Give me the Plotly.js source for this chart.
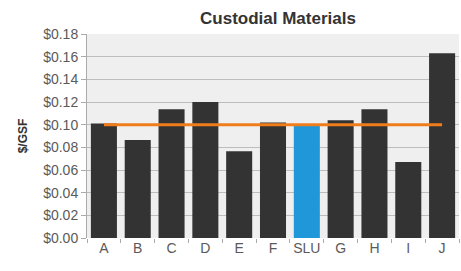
<!DOCTYPE html>
<html><head><meta charset="utf-8">
<script src="https://cdn.plot.ly/plotly-3.0.1.min.js"></script>
<style>html,body{margin:0;padding:0;background:#fff;}#chart{width:461px;height:271px;}</style>
</head><body><div id="chart"></div>
<script>
const categories = ["A","B","C","D","E","F","SLU","G","H","I","J"];
const values = [0.101,0.0865,0.1135,0.120,0.0765,0.102,0.0995,0.104,0.1135,0.067,0.163];
const average = 0.100;
const barColors = categories.map(c => c === "SLU" ? "#1f97d8" : "#333333");
const avgLine = categories.map(() => average);

const traces = [
  {type:"bar", x:categories, y:values, marker:{color:barColors, line:{width:0}}, hoverinfo:"skip"},
  {type:"scatter", mode:"lines", x:categories, y:avgLine, line:{color:"#f07d1c", width:3}, hoverinfo:"skip"}
];
const layout = {
  width:461, height:271,
  margin:{l:87, r:2, t:34, b:33},
  paper_bgcolor:"#ffffff", plot_bgcolor:"#efefef",
  showlegend:false, bargap:0.23,
  font:{family:"Liberation Sans, Arial, sans-serif", color:"#5a5a5a", size:14},
  title:{text:"<b>Custodial Materials</b>", x:0.603, xanchor:"center", y:0.932, yanchor:"middle", font:{size:17, color:"#333333"}},
  xaxis:{type:"category", showgrid:false, ticks:"outside", tickson:"boundaries", ticklen:4, tickcolor:"#aaaaaa",
         tickangle:0, showline:false, zeroline:false, tickfont:{size:14, color:"#5a5a5a"}},
  yaxis:{range:[0,0.18], dtick:0.02, tickformat:"$.2f", showgrid:true, gridcolor:"#bdbdbd", gridwidth:1,
         ticks:"outside", ticklen:5, tickcolor:"#aaaaaa", showline:true, linecolor:"#aaaaaa", zeroline:false,
         tickfont:{size:14, color:"#5a5a5a"},
         title:{text:"<b>$/GSF</b>", font:{size:12, color:"#333333"}, standoff:12}}
};
Plotly.newPlot("chart", traces, layout, {staticPlot:true, displayModeBar:false});
</script></body></html>
